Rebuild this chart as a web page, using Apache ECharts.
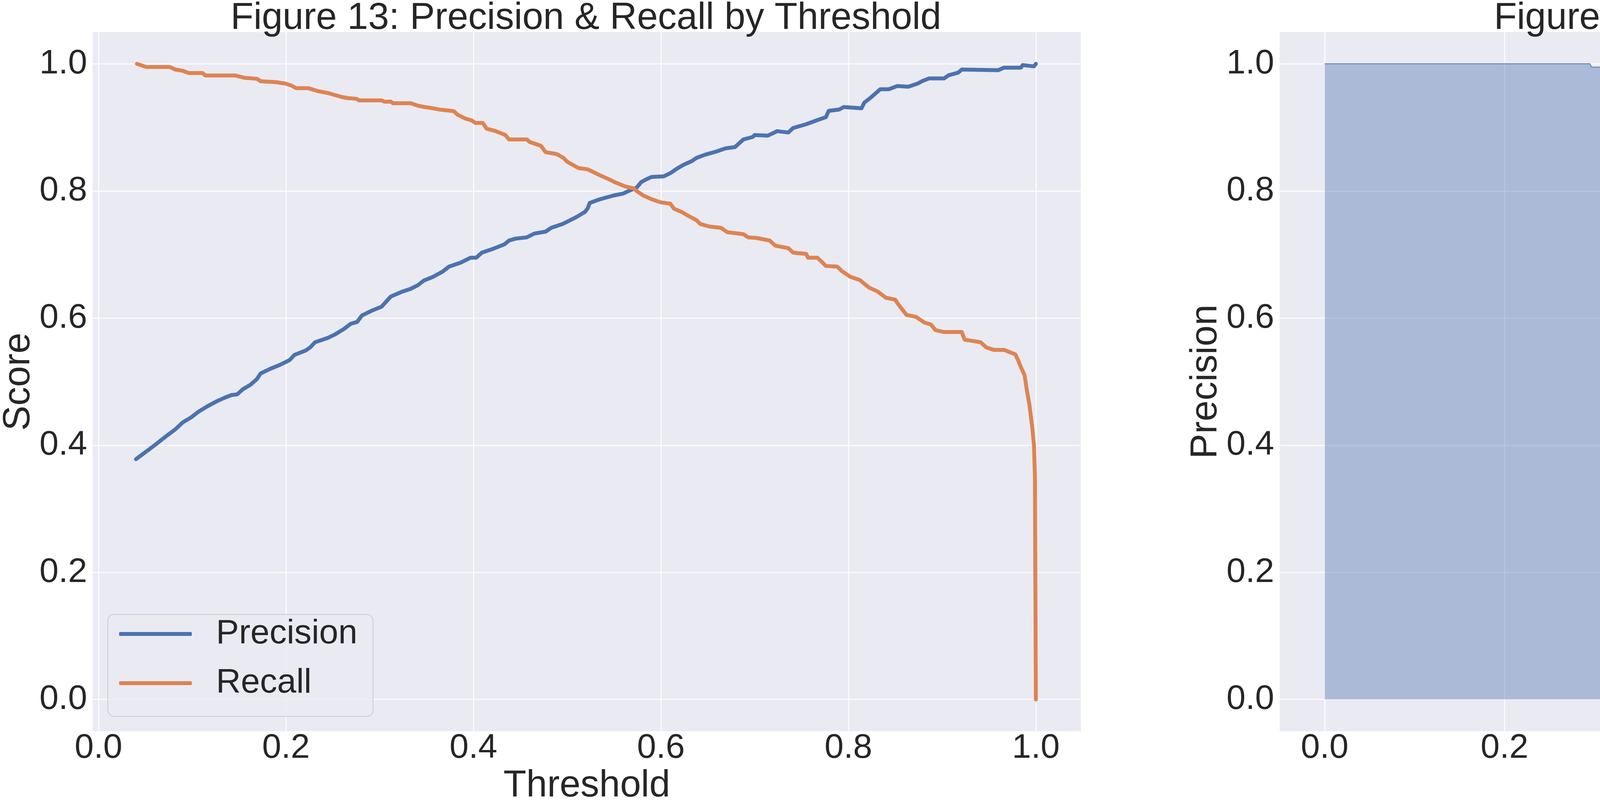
<!DOCTYPE html>
<html>
<head>
<meta charset="utf-8">
<script src="https://cdn.jsdelivr.net/npm/echarts@6/dist/echarts.min.js"></script>
<style>
  html, body { margin: 0; padding: 0; background: #ffffff; }
  #main { width: 5824px; height: 2066px; }
</style>
</head>
<body>
<div id="main"></div>
<script>
// Figure 13: precision / recall against decision threshold
var precThreshold = [0.040, 0.059, 0.072, 0.082, 0.090, 0.099, 0.107, 0.116, 0.126, 0.135,
  0.142, 0.148, 0.154, 0.162, 0.169, 0.173, 0.183, 0.193, 0.204, 0.209,
  0.221, 0.226, 0.231, 0.245, 0.252, 0.262, 0.269, 0.276, 0.281, 0.292,
  0.302, 0.307, 0.312, 0.323, 0.333, 0.341, 0.347, 0.357, 0.367, 0.374,
  0.386, 0.397, 0.403, 0.409, 0.421, 0.433, 0.438, 0.445, 0.457, 0.465,
  0.477, 0.483, 0.495, 0.502, 0.510, 0.519, 0.522, 0.524, 0.533, 0.540,
  0.550, 0.560, 0.567, 0.574, 0.579, 0.584, 0.590, 0.603, 0.610, 0.617,
  0.624, 0.633, 0.638, 0.647, 0.659, 0.669, 0.679, 0.688, 0.698, 0.700,
  0.714, 0.724, 0.736, 0.741, 0.755, 0.766, 0.776, 0.779, 0.790, 0.795,
  0.814, 0.817, 0.824, 0.834, 0.843, 0.852, 0.864, 0.874, 0.879, 0.886,
  0.902, 0.907, 0.917, 0.921, 0.960, 0.966, 0.984, 0.986, 0.998, 1.000];
var precValues = [0.378, 0.399, 0.414, 0.425, 0.436, 0.444, 0.453, 0.461, 0.469, 0.475,
  0.479, 0.480, 0.488, 0.495, 0.504, 0.513, 0.520, 0.526, 0.534, 0.542,
  0.549, 0.554, 0.562, 0.569, 0.574, 0.583, 0.591, 0.594, 0.604, 0.612,
  0.618, 0.626, 0.634, 0.641, 0.646, 0.652, 0.659, 0.665, 0.673, 0.681,
  0.687, 0.695, 0.695, 0.703, 0.709, 0.716, 0.722, 0.725, 0.727, 0.733,
  0.736, 0.742, 0.748, 0.753, 0.759, 0.767, 0.773, 0.781, 0.786, 0.789,
  0.793, 0.796, 0.801, 0.805, 0.814, 0.818, 0.822, 0.823, 0.828, 0.835,
  0.841, 0.847, 0.852, 0.857, 0.862, 0.867, 0.869, 0.881, 0.885, 0.888,
  0.887, 0.894, 0.892, 0.899, 0.905, 0.911, 0.916, 0.926, 0.928, 0.932,
  0.930, 0.939, 0.947, 0.960, 0.960, 0.965, 0.964, 0.969, 0.973, 0.977,
  0.977, 0.982, 0.986, 0.991, 0.990, 0.994, 0.994, 0.998, 0.996, 1.000];

var recThreshold = [0.041, 0.051, 0.076, 0.082, 0.090, 0.096, 0.111, 0.114, 0.146, 0.156,
  0.169, 0.173, 0.190, 0.199, 0.2055, 0.211, 0.224, 0.234, 0.245, 0.259,
  0.266, 0.275, 0.278, 0.302, 0.305, 0.312, 0.314, 0.333, 0.341, 0.348,
  0.357, 0.364, 0.376, 0.379, 0.383, 0.391, 0.398, 0.402, 0.410, 0.414,
  0.424, 0.434, 0.438, 0.457, 0.460, 0.472, 0.477, 0.489, 0.496, 0.500,
  0.512, 0.522, 0.533, 0.545, 0.552, 0.562, 0.571, 0.574, 0.581, 0.590,
  0.600, 0.610, 0.614, 0.622, 0.629, 0.638, 0.642, 0.652, 0.664, 0.671,
  0.688, 0.693, 0.702, 0.716, 0.722, 0.736, 0.741, 0.755, 0.757, 0.767,
  0.776, 0.788, 0.793, 0.802, 0.812, 0.822, 0.831, 0.840, 0.850, 0.853,
  0.862, 0.872, 0.881, 0.888, 0.893, 0.902, 0.921, 0.924, 0.941, 0.947,
  0.955, 0.966, 0.978, 0.981, 0.984, 0.988, 0.990, 0.993, 0.996, 0.998,
  0.999, 1.000];
var recValues = [1.000, 0.995, 0.995, 0.991, 0.989, 0.9855, 0.9855, 0.9816, 0.9816, 0.978,
  0.9765, 0.9726, 0.971, 0.969, 0.966, 0.9616, 0.9616, 0.957, 0.954, 0.948,
  0.946, 0.945, 0.9425, 0.9425, 0.9405, 0.9405, 0.938, 0.938, 0.934, 0.932,
  0.930, 0.928, 0.926, 0.9256, 0.920, 0.914, 0.911, 0.907, 0.907, 0.898,
  0.894, 0.888, 0.881, 0.881, 0.877, 0.871, 0.861, 0.858, 0.852, 0.846,
  0.836, 0.834, 0.826, 0.818, 0.813, 0.807, 0.804, 0.800, 0.793, 0.787,
  0.782, 0.780, 0.772, 0.767, 0.761, 0.754, 0.748, 0.744, 0.742, 0.735,
  0.732, 0.727, 0.726, 0.722, 0.714, 0.710, 0.703, 0.701, 0.695, 0.695,
  0.682, 0.681, 0.674, 0.665, 0.660, 0.648, 0.642, 0.632, 0.629, 0.622,
  0.605, 0.602, 0.593, 0.590, 0.581, 0.578, 0.578, 0.566, 0.562, 0.554,
  0.550, 0.550, 0.543, 0.534, 0.523, 0.510, 0.490, 0.465, 0.430, 0.400,
  0.350, 0.000];

// Figure 14: precision-recall curve
var curveRecall = [0.000, 0.295, 0.297, 0.523, 0.525, 0.549, 0.552, 0.577, 0.580, 0.593,
  0.598, 0.608, 0.623, 0.631, 0.636, 0.641, 0.646, 0.656, 0.658, 0.674,
  0.680, 0.684, 0.694, 0.698, 0.706, 0.709, 0.719, 0.727, 0.730, 0.734,
  0.741, 0.746, 0.749, 0.756, 0.762, 0.770, 0.779, 0.789, 0.794, 0.800,
  0.806, 0.817, 0.825, 0.831, 0.835, 0.845, 0.848, 0.853, 0.859, 0.870,
  0.882, 0.888, 0.897, 0.906, 0.910, 0.916, 0.926, 0.931, 0.936, 0.940,
  0.942, 0.948, 0.953, 0.960, 0.963, 0.969, 0.974, 0.978, 0.981, 0.985,
  0.988, 0.993, 0.996, 1.000];
var curvePrecision = [1.000, 1.000, 0.9947, 0.997, 0.9938, 0.993, 0.991, 0.9915, 0.9775, 0.9775,
  0.970, 0.963, 0.963, 0.961, 0.959, 0.9535, 0.9455, 0.9385, 0.9315, 0.9305,
  0.928, 0.915, 0.911, 0.904, 0.899, 0.893, 0.891, 0.887, 0.880, 0.8667,
  0.866, 0.860, 0.854, 0.852, 0.846, 0.834, 0.828, 0.820, 0.812, 0.804,
  0.798, 0.792, 0.788, 0.780, 0.763, 0.757, 0.750, 0.750, 0.737, 0.733,
  0.721, 0.712, 0.707, 0.705, 0.696, 0.688, 0.686, 0.671, 0.650, 0.622,
  0.598, 0.579, 0.565, 0.561, 0.542, 0.528, 0.514, 0.492, 0.476, 0.453,
  0.434, 0.420, 0.387, 0.375];

var tickValues = [0, 0.2, 0.4, 0.6, 0.8, 1.0];

var FONT = "'Liberation Sans', Arial, sans-serif";
var INK = '#262626';
var BLUE = '#4c72b0';
var ORANGE = '#dd8452';

function pairs(xs, ys) {
  return xs.map(function (x, i) { return [x, ys[i]]; });
}

// seaborn darkgrid look: no spines, no ticks, white grid
function valueAxis(extra) {
  var ax = {
    type: 'value',
    axisLine: { show: false, onZero: false },
    axisTick: { show: false, customValues: tickValues },
    axisLabel: {
      customValues: tickValues,
      formatter: function (v) { return v.toFixed(1); },
      fontSize: 88, lineHeight: 88, fontFamily: FONT, color: INK
    },
    splitLine: { show: true, lineStyle: { color: '#ffffff', width: 2.5 } },
    nameLocation: 'middle',
    nameTextStyle: { fontSize: 96, lineHeight: 96, fontFamily: FONT, color: INK }
  };
  for (var k in extra) {
    if (k === 'axisLabel') { Object.assign(ax.axisLabel, extra[k]); }
    else { ax[k] = extra[k]; }
  }
  return ax;
}

var chart = echarts.init(document.getElementById('main'), null, { renderer: 'canvas' });
chart.setOption({
  animation: false,
  backgroundColor: '#ffffff',
  graphic: [
    { type: 'text', x: 1500, y: 48, style: { text: 'Figure 13: Precision & Recall by Threshold', fill: INK, fontSize: 96, fontFamily: FONT, align: 'center', verticalAlign: 'middle' } },
    { type: 'text', x: 4542, y: 48, style: { text: 'Figure 14: Precision-Recall Curve', fill: INK, fontSize: 96, fontFamily: FONT, align: 'center', verticalAlign: 'middle' } }
  ],
  grid: [
    { left: 232, top: 82, width: 2535, height: 1797, show: true, backgroundColor: '#eaeaf2', borderWidth: 0 },
    { left: 3276, top: 82, width: 2532, height: 1797, show: true, backgroundColor: '#eaeaf2', borderWidth: 0 }
  ],
  xAxis: [
    valueAxis({ gridIndex: 0, min: -0.0062, max: 1.048, name: 'Threshold', nameGap: 84, axisLabel: { margin: 0 } }),
    valueAxis({ gridIndex: 1, min: -0.05, max: 1.05, name: 'Recall', nameGap: 84, axisLabel: { margin: 0 } })
  ],
  yAxis: [
    valueAxis({ gridIndex: 0, min: -0.05, max: 1.05, name: 'Score', nameGap: 131, axisLabel: { margin: 14 } }),
    valueAxis({ gridIndex: 1, min: -0.05, max: 1.05, name: 'Precision', nameGap: 125, axisLabel: { margin: 14 } })
  ],
  legend: {
    data: ['Precision', 'Recall'],
    orient: 'vertical',
    left: 276, top: 1573,
    icon: 'roundRect',
    itemWidth: 186, itemHeight: 10, itemGap: 26,
    padding: [0, 40, 35, 29],
    backgroundColor: 'rgba(234,234,242,0.8)',
    borderColor: '#cccccc', borderWidth: 2, borderRadius: 16,
    itemStyle: { borderWidth: 0 },
    textStyle: { fontSize: 88, lineHeight: 100, fontFamily: FONT, color: INK, padding: [0, 0, 0, 57] }
  },
  series: [
    {
      name: 'Precision', type: 'line', xAxisIndex: 0, yAxisIndex: 0,
      data: pairs(precThreshold, precValues),
      symbol: 'none', color: BLUE,
      lineStyle: { color: BLUE, width: 10, cap: 'round', join: 'round' }
    },
    {
      name: 'Recall', type: 'line', xAxisIndex: 0, yAxisIndex: 0,
      data: pairs(recThreshold, recValues),
      symbol: 'none', color: ORANGE,
      lineStyle: { color: ORANGE, width: 10, cap: 'round', join: 'round' }
    },
    {
      name: 'PR curve', type: 'line', xAxisIndex: 1, yAxisIndex: 1,
      data: pairs(curveRecall, curvePrecision),
      symbol: 'none', color: BLUE,
      lineStyle: { color: BLUE, width: 2.5, opacity: 0.8 },
      areaStyle: { color: BLUE, opacity: 0.4 }
    }
  ]
});
</script>
</body>
</html>
